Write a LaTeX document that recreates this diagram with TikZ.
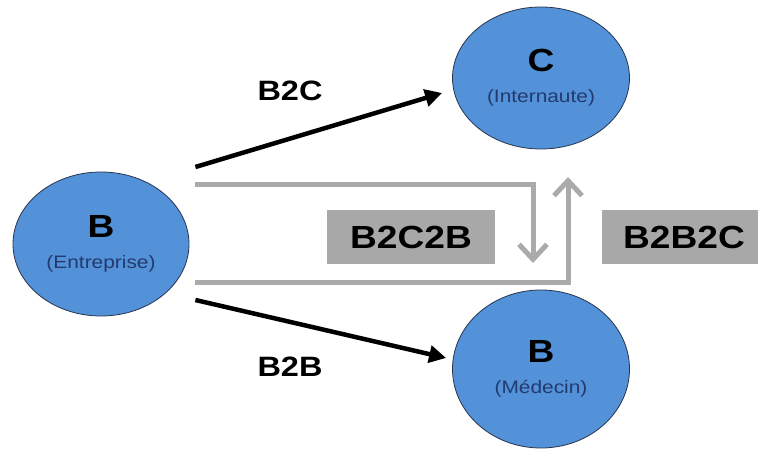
\documentclass[tikz,border=0pt]{standalone}
\usepackage{fontspec}
\setmainfont[FakeStretch=1.16]{Liberation Sans}
\usetikzlibrary{calc,shapes.geometric,arrows.meta}

\begin{document}
\begin{tikzpicture}[x=1pt, y=-1pt,
    party/.style={draw=C3, line width=0.8pt, fill=C0, shape=ellipse, inner sep=0pt, align=center, text=C1, font=\fontsize{18}{31}\selectfont},
    deal/.style={font=\bfseries\fontsize{28}{28}\selectfont},
    chain/.style={fill=C2, minimum height=54pt, inner sep=0pt, font=\bfseries\fontsize{32}{32}\selectfont},
    flow/.style={draw, line width=4.5pt, -{Triangle[length=17pt, width=17pt]}},
    relay/.style={draw=C4, line width=5pt, -{Straight Barb[length=15pt, width=28pt]}}]
    \definecolor{C0}{HTML}{5391D8}
    \definecolor{C1}{HTML}{233A6E}
    \definecolor{C2}{HTML}{A8A8A8}
    \definecolor{C3}{HTML}{27354F}
    \definecolor{C4}{HTML}{AAAAAA}

    \useasboundingbox (0,0) rectangle (758,449);

    \node[party, minimum width=176pt, minimum height=144pt] (entB) at (101,244) {{\fontsize{32}{31}\selectfont\bfseries\color{black}B}\\(Entreprise)};
    \node[party, minimum width=177pt, minimum height=142pt] (intC) at (541,78) {{\fontsize{32}{31}\selectfont\bfseries\color{black}C}\\(Internaute)};
    \node[party, minimum width=177pt, minimum height=158pt] (medB) at (541,369) {{\fontsize{32}{31}\selectfont\bfseries\color{black}B}\\(Médecin)};

    % direct flows
    \coordinate (b2cS) at ($ (entB.east) + (6,-77) $);
    \coordinate (b2cT) at ($ (intC.west) + (-10,15) $);
    \coordinate (b2bS) at ($ (entB.east) + (6,56) $);
    \coordinate (b2bT) at ($ (medB.west) + (-6,-11) $);
    \path[flow] (b2cS) -- (b2cT);
    \path[flow] (b2bS) -- (b2bT);
    \node[deal] (b2c) at (290,91) {B2C};
    \node[deal] (b2b) at (290,367) {B2B};

    % relayed flows
    \coordinate (topS) at ($ (entB.east) + (6,-59) $);
    \coordinate (downT) at (533,263);
    \coordinate (botS) at ($ (entB.east) + (6,39) $);
    \coordinate (upT) at (568,177);
    \path[relay] (topS) -| (downT);
    \path[relay] (botS) -| (upT);

    \node[chain, minimum width=168pt] (b2c2b) at (411,237) {B2C2B};
    \node[chain, minimum width=164pt] (b2b2c) at (684,237) {B2B2C};

\end{tikzpicture}
\end{document}
